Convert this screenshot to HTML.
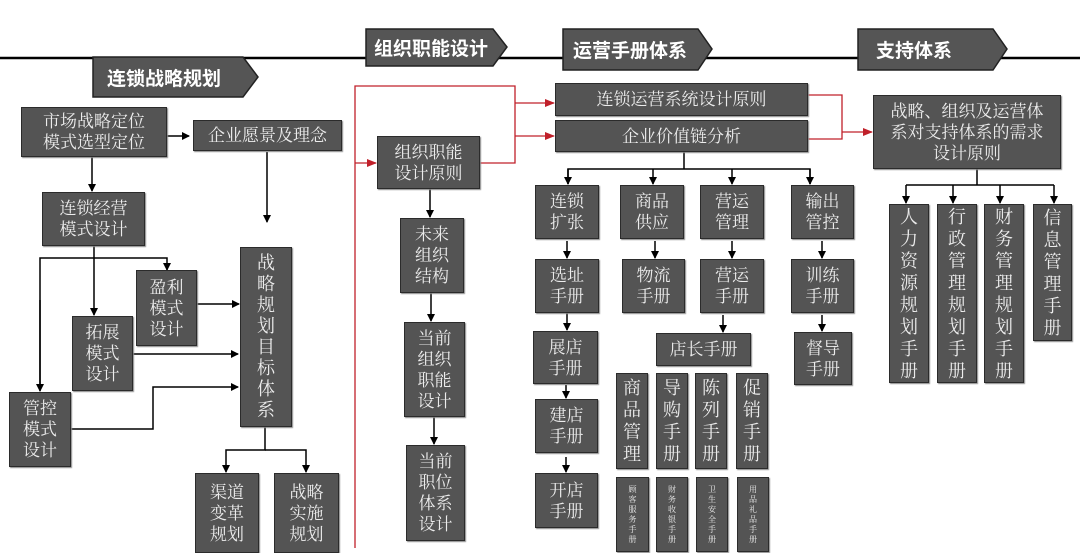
<!DOCTYPE html>
<html><head><meta charset="utf-8"><style>
*{margin:0;padding:0;box-sizing:border-box}
body{width:1080px;height:548px;background:#fff;position:relative;overflow:hidden;font-family:"Liberation Serif","Noto Serif CJK SC",serif}
.b{position:absolute;background:#545454;border:1.5px solid #2b2b2b;color:#ececec;display:flex;align-items:center;justify-content:center;text-align:center;font-size:17px;line-height:21px;box-shadow:1px 1px 1px #888}
.v{line-height:24px;font-size:18px}
.s{font-size:8px;line-height:10px}
.ban{position:absolute;color:#fff;font-family:"Liberation Sans","Noto Sans CJK SC",sans-serif;font-size:19px;font-weight:bold;display:flex;align-items:center;padding-left:14px}
svg{position:absolute;left:0;top:0}
</style></head><body>
<svg width="1080" height="548">
<defs>
<marker id="a" markerWidth="8" markerHeight="8" refX="7" refY="4" orient="auto" markerUnits="userSpaceOnUse"><path d="M0,0L8,4L0,8z" fill="#000"/></marker>
<marker id="r" markerWidth="10" markerHeight="8" refX="9" refY="4" orient="auto" markerUnits="userSpaceOnUse"><path d="M0,0L10,4L0,8z" fill="#c0202a"/></marker>
</defs>
<line x1="0" y1="58" x2="1080" y2="58" stroke="#000" stroke-width="2.5"/>
<!-- banners -->
<polygon points="93,57 243,57 258,77 243,97 93,97" fill="#555" stroke="#222" stroke-width="1.5"/>
<polygon points="366,29 493,29 507,47 493,66 366,66" fill="#555" stroke="#222" stroke-width="1.5"/>
<polygon points="563,29 698,29 712,49 698,70 563,70" fill="#555" stroke="#222" stroke-width="1.5"/>
<polygon points="858,29 993,29 1007,49 993,70 858,70" fill="#555" stroke="#222" stroke-width="1.5"/>
<g stroke="#000" stroke-width="1.5" fill="none">
<line x1="157" y1="136" x2="189" y2="136" marker-end="url(#a)"/>
<line x1="92" y1="157" x2="92" y2="191" marker-end="url(#a)"/>
<line x1="267" y1="152" x2="267" y2="222" marker-end="url(#a)"/>
<line x1="94" y1="246" x2="94" y2="315" marker-end="url(#a)"/>
<polyline points="40,390 40,258 167,258 167,270" marker-end="url(#a)"/>
<line x1="40" y1="300" x2="40" y2="391" marker-end="url(#a)"/>
<line x1="197" y1="304" x2="239" y2="304" marker-end="url(#a)"/>
<line x1="133" y1="354" x2="238" y2="354" marker-end="url(#a)"/>
<polyline points="71,429 153,429 153,387 238,387" marker-end="url(#a)"/>
<polyline points="265,427 265,450 226,450 226,472" marker-end="url(#a)"/>
<polyline points="265,450 306,450 306,472" marker-end="url(#a)"/>
<line x1="430" y1="189" x2="430" y2="217" marker-end="url(#a)"/>
<line x1="431" y1="292" x2="431" y2="321" marker-end="url(#a)"/>
<line x1="434" y1="417" x2="434" y2="444" marker-end="url(#a)"/>
<line x1="684" y1="152" x2="684" y2="169"/>
<polyline points="568,184 568,169 810,169 810,184"/>
<line x1="568" y1="169" x2="568" y2="184" marker-end="url(#a)"/>
<line x1="653" y1="169" x2="653" y2="184" marker-end="url(#a)"/>
<line x1="732" y1="169" x2="732" y2="184" marker-end="url(#a)"/>
<line x1="810" y1="169" x2="810" y2="184" marker-end="url(#a)"/>
<line x1="567" y1="241" x2="567" y2="258" marker-end="url(#a)"/>
<line x1="655" y1="241" x2="655" y2="258" marker-end="url(#a)"/>
<line x1="732" y1="241" x2="732" y2="258" marker-end="url(#a)"/>
<line x1="822" y1="241" x2="822" y2="258" marker-end="url(#a)"/>
<line x1="567" y1="313" x2="567" y2="330" marker-end="url(#a)"/>
<line x1="566" y1="385" x2="566" y2="398" marker-end="url(#a)"/>
<line x1="566" y1="457" x2="566" y2="472" marker-end="url(#a)"/>
<line x1="723" y1="315" x2="723" y2="332" marker-end="url(#a)"/>
<line x1="822" y1="315" x2="822" y2="331" marker-end="url(#a)"/>
<line x1="977" y1="169" x2="977" y2="185"/>
<line x1="906" y1="185" x2="1054" y2="185"/>
<line x1="906" y1="185" x2="906" y2="203" marker-end="url(#a)"/>
<line x1="953" y1="185" x2="953" y2="203" marker-end="url(#a)"/>
<line x1="1000" y1="185" x2="1000" y2="203" marker-end="url(#a)"/>
<line x1="1054" y1="185" x2="1054" y2="203" marker-end="url(#a)"/>
</g>
<g stroke="#c0202a" stroke-width="1.3" fill="none">
<polyline points="355,548 355,86 515,86 515,163 480,163"/>
<line x1="355" y1="163" x2="376" y2="163" marker-end="url(#r)"/>
<line x1="515" y1="103" x2="554" y2="103" marker-end="url(#r)"/>
<line x1="515" y1="136" x2="554" y2="136" marker-end="url(#r)"/>
<polyline points="808,95 842,95 842,139 808,139"/>
<line x1="842" y1="132" x2="872" y2="132" marker-end="url(#r)"/>
</g>
</svg>
<div class="ban" style="left:93px;top:57px;width:150px;height:40px">连锁战略规划</div>
<div class="ban" style="left:366px;top:29px;width:130px;height:37px;padding-left:8px">组织职能设计</div>
<div class="ban" style="left:563px;top:29px;width:140px;height:41px;padding-left:10px">运营手册体系</div>
<div class="ban" style="left:858px;top:29px;width:140px;height:41px;padding-left:18px">支持体系</div>

<div class="b" style="left:21px;top:107px;width:146px;height:50px">市场战略定位<br>模式选型定位</div>
<div class="b" style="left:193px;top:120px;width:149px;height:31px">企业愿景及理念</div>
<div class="b" style="left:42px;top:192px;width:103px;height:54px">连锁经营<br>模式设计</div>
<div class="b" style="left:136px;top:270px;width:61px;height:76px">盈利<br>模式<br>设计</div>
<div class="b" style="left:72px;top:316px;width:61px;height:75px">拓展<br>模式<br>设计</div>
<div class="b" style="left:9px;top:392px;width:62px;height:75px">管控<br>模式<br>设计</div>
<div class="b v" style="left:240px;top:247px;width:52px;height:180px;line-height:21px">战<br>略<br>规<br>划<br>目<br>标<br>体<br>系</div>
<div class="b" style="left:195px;top:473px;width:64px;height:80px">渠道<br>变革<br>规划</div>
<div class="b" style="left:274px;top:473px;width:65px;height:80px">战略<br>实施<br>规划</div>

<div class="b" style="left:377px;top:136px;width:103px;height:53px">组织职能<br>设计原则</div>
<div class="b" style="left:400px;top:218px;width:64px;height:75px">未来<br>组织<br>结构</div>
<div class="b" style="left:404px;top:322px;width:61px;height:95px">当前<br>组织<br>职能<br>设计</div>
<div class="b" style="left:406px;top:445px;width:59px;height:96px">当前<br>职位<br>体系<br>设计</div>

<div class="b" style="left:555px;top:83px;width:253px;height:33px">连锁运营系统设计原则</div>
<div class="b" style="left:555px;top:120px;width:253px;height:32px">企业价值链分析</div>
<div class="b" style="left:873px;top:95px;width:188px;height:74px">战略、组织及运营体<br>系对支持体系的需求<br>设计原则</div>

<div class="b" style="left:535px;top:185px;width:64px;height:54px">连锁<br>扩张</div>
<div class="b" style="left:620px;top:185px;width:64px;height:54px">商品<br>供应</div>
<div class="b" style="left:700px;top:185px;width:64px;height:54px">营运<br>管理</div>
<div class="b" style="left:791px;top:185px;width:63px;height:54px">输出<br>管控</div>
<div class="b" style="left:535px;top:259px;width:64px;height:54px">选址<br>手册</div>
<div class="b" style="left:622px;top:259px;width:63px;height:54px">物流<br>手册</div>
<div class="b" style="left:700px;top:259px;width:64px;height:54px">营运<br>手册</div>
<div class="b" style="left:791px;top:259px;width:63px;height:54px">训练<br>手册</div>
<div class="b" style="left:533px;top:331px;width:65px;height:53px">展店<br>手册</div>
<div class="b" style="left:535px;top:399px;width:63px;height:54px">建店<br>手册</div>
<div class="b" style="left:535px;top:473px;width:63px;height:55px">开店<br>手册</div>
<div class="b" style="left:656px;top:333px;width:95px;height:33px">店长手册</div>
<div class="b" style="left:794px;top:332px;width:58px;height:53px">督导<br>手册</div>
<div class="b v" style="left:616px;top:373px;width:32px;height:96px;line-height:22px">商<br>品<br>管<br>理</div>
<div class="b v" style="left:656px;top:373px;width:32px;height:96px;line-height:22px">导<br>购<br>手<br>册</div>
<div class="b v" style="left:695px;top:373px;width:32px;height:96px;line-height:22px">陈<br>列<br>手<br>册</div>
<div class="b v" style="left:736px;top:373px;width:32px;height:96px;line-height:22px">促<br>销<br>手<br>册</div>
<div class="b s" style="left:616px;top:477px;width:33px;height:75px">顾<br>客<br>服<br>务<br>手<br>册</div>
<div class="b s" style="left:656px;top:477px;width:32px;height:75px">财<br>务<br>收<br>银<br>手<br>册</div>
<div class="b s" style="left:696px;top:477px;width:32px;height:75px">卫<br>生<br>安<br>全<br>手<br>册</div>
<div class="b s" style="left:737px;top:477px;width:32px;height:75px">用<br>品<br>礼<br>品<br>手<br>册</div>

<div class="b v" style="left:889px;top:204px;width:40px;height:179px;line-height:22px">人<br>力<br>资<br>源<br>规<br>划<br>手<br>册</div>
<div class="b v" style="left:937px;top:204px;width:40px;height:179px;line-height:22px">行<br>政<br>管<br>理<br>规<br>划<br>手<br>册</div>
<div class="b v" style="left:984px;top:204px;width:40px;height:179px;line-height:22px">财<br>务<br>管<br>理<br>规<br>划<br>手<br>册</div>
<div class="b v" style="left:1033px;top:204px;width:39px;height:137px;line-height:22px">信<br>息<br>管<br>理<br>手<br>册</div>
</body></html>
